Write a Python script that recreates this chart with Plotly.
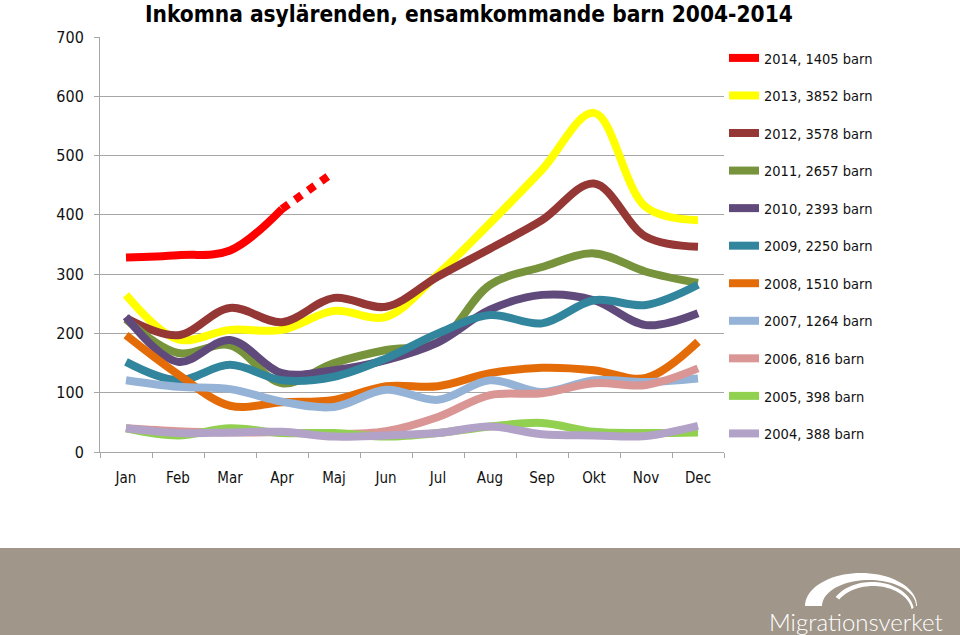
import math
import plotly.graph_objects as go

months = ["Jan", "Feb", "Mar", "Apr", "Maj", "Jun", "Jul", "Aug", "Sep", "Okt", "Nov", "Dec"]

labels = ["2014, 1405 barn", "2013, 3852 barn", "2012, 3578 barn", "2011, 2657 barn",
          "2010, 2393 barn", "2009, 2250 barn", "2008, 1510 barn", "2007, 1264 barn",
          "2006, 816 barn", "2005, 398 barn", "2004, 388 barn"]

y2014 = [328, 332, 340, 410, 472, None, None, None, None, None, None, None]
y2013 = [265, 190, 206, 206, 238, 228, 300, 386, 476, 572, 413, 391]
y2012 = [226, 197, 243, 219, 260, 245, 296, 343, 391, 453, 363, 346]
y2011 = [224, 167, 180, 116, 150, 172, 185, 282, 312, 335, 304, 285]
y2010 = [228, 152, 189, 133, 138, 155, 185, 240, 265, 256, 214, 234]
y2009 = [152, 121, 147, 121, 127, 158, 200, 231, 217, 256, 248, 282]
y2008 = [197, 131, 78, 84, 88, 111, 111, 133, 142, 138, 125, 186]
y2007 = [121, 110, 106, 85, 76, 105, 88, 121, 101, 121, 118, 124]
y2006 = [40, 35, 33, 33, 30, 35, 59, 96, 99, 116, 113, 141]
y2005 = [40, 28, 40, 32, 32, 26, 32, 43, 49, 34, 32, 33]
y2004 = [40, 32, 33, 34, 26, 28, 32, 43, 30, 28, 27, 44]

colors = ["#FF0000", "#FFFF00", "#953735", "#77933C", "#604A7B", "#31859C",
          "#E36C09", "#95B3D7", "#D99694", "#92D050", "#B3A2C7"]

series = [y2014, y2013, y2012, y2011, y2010, y2009, y2008, y2007, y2006, y2005, y2004]

FONT = "Liberation Sans Narrow, DejaVu Sans Condensed, Arial Narrow, sans-serif"
LW = 8

fig = go.Figure()

for i, (lab, ys, col) in enumerate(zip(labels, series, colors)):
    if i == 0:
        # 2014: solid Jan-Apr, dotted Apr-Maj
        fig.add_trace(go.Scatter(x=months[:4], y=ys[:4], mode="lines", name=lab,
                                 legendgroup=lab, line=dict(color=col, width=LW, shape="spline", smoothing=1)))
        fig.add_trace(go.Scatter(x=months[3:5], y=ys[3:5], mode="lines", name=lab,
                                 legendgroup=lab, showlegend=False,
                                 line=dict(color=col, width=LW, dash="dot")))
    else:
        fig.add_trace(go.Scatter(x=months, y=ys, mode="lines", name=lab, legendgroup=lab,
                                 line=dict(color=col, width=LW, shape="spline", smoothing=1)))

W, H = 960, 635
L, R, T, B = 100, 724, 37, 452


def px(x):
    return (x - L) / (R - L)


def py(y):
    return (B - y) / (B - T)


shapes = [
    dict(type="rect", xref="paper", yref="paper", x0=px(-2), x1=px(W + 2), y0=py(548), y1=py(H + 2),
         fillcolor="#A0968A", line=dict(width=0), layer="below"),
]


def path(pts):
    return "M " + " L ".join(f"{px(a):.5f},{py(b):.5f}" for a, b in pts) + " Z"


def arc(cx, cy, rx, ry, a0, a1, n=40):
    return [(cx + rx * math.cos(math.radians(a0 + (a1 - a0) * k / n)),
             cy - ry * math.sin(math.radians(a0 + (a1 - a0) * k / n))) for k in range(n + 1)]


# logo arch: thick crescent (thick on the left, thin on the right) + thin inner arc
outer = arc(861, 606, 56, 33, 180, 0)
inner = arc(869, 606, 47, 26, 0, 180)
shapes.append(dict(type="path", xref="paper", yref="paper", path=path(outer + inner),
                   fillcolor="white", line=dict(width=0)))
thin_o = arc(872, 612, 42, 30, 150, 8)
thin_i = arc(873, 613, 39, 27, 8, 150)
shapes.append(dict(type="path", xref="paper", yref="paper", path=path(thin_o + thin_i),
                   fillcolor="white", line=dict(width=0)))

fig.update_layout(
    width=W, height=H,
    margin=dict(l=L, r=W - R, t=T, b=H - B, pad=0),
    paper_bgcolor="white", plot_bgcolor="white",
    font=dict(family=FONT, size=15, color="#111111"),
    title=dict(text="<b>Inkomna asylärenden, ensamkommande barn 2004-2014</b>",
               xref="container", yref="container", x=145 / W, xanchor="left",
               y=1 - 14 / H, yanchor="middle",
               font=dict(family=FONT, size=22.5, color="#000000")),
    xaxis=dict(type="category", range=[-0.5, 11.5], showgrid=False, showline=True,
               linecolor="#A6A6A6", linewidth=1, ticks="outside", ticklen=5, tickcolor="#A6A6A6",
               tickson="boundaries", tickfont=dict(size=15), ticklabelstandoff=12, fixedrange=True),
    yaxis=dict(range=[0, 700], dtick=100, showgrid=True, gridcolor="#A6A6A6", gridwidth=1,
               showline=True, linecolor="#A6A6A6", linewidth=1, ticks="outside", ticklen=5,
               tickcolor="#A6A6A6", tickfont=dict(size=16), ticklabelstandoff=7,
               zeroline=False, fixedrange=True),
    showlegend=True,
    legend=dict(x=1.0, xanchor="left", y=py(42), yanchor="top", traceorder="grouped",
                tracegroupgap=15.7, itemwidth=30, font=dict(size=14.5), bgcolor="rgba(0,0,0,0)"),
    shapes=shapes,
    annotations=[dict(text="Migrationsverket", xref="paper", yref="paper", x=px(856), y=py(621),
                      xanchor="center", yanchor="middle", showarrow=False,
                      font=dict(family="Lato, Open Sans, sans-serif", size=24, color="white", weight=300))],
)

fig.write_html("out.html", config={"displayModeBar": False},
               post_script="document.body.style.margin='0px';")
